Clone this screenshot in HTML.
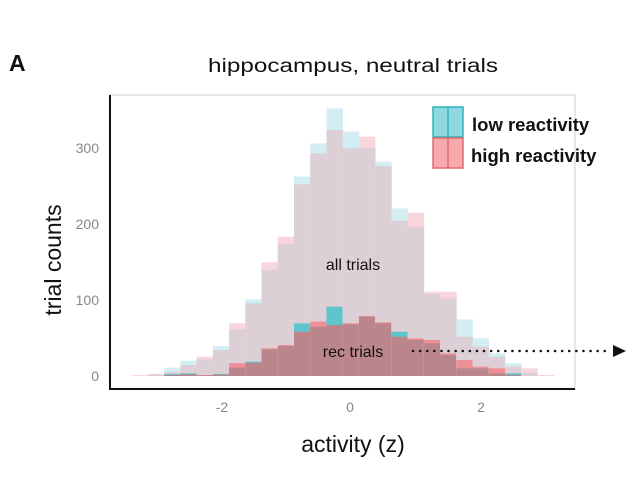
<!DOCTYPE html>
<html><head><meta charset="utf-8"><style>
html,body{margin:0;padding:0;background:#fff;}
svg{display:block;font-family:"Liberation Sans",Arial,sans-serif;}
</style></head><body>
<svg id="s" width="640" height="480" viewBox="0 0 640 480" xmlns="http://www.w3.org/2000/svg">
<rect width="640" height="480" fill="#fff"/>
<g id="bars"></g>
<rect x="110" y="95" width="465" height="294" fill="none" stroke="#cfcfcf" stroke-width="1"/>
<line x1="110" y1="95" x2="110" y2="389" stroke="#111" stroke-width="2"/>
<line x1="109" y1="389" x2="575" y2="389" stroke="#111" stroke-width="2"/>
<text x="9" y="71" font-size="23" font-weight="bold" fill="#111">A</text>
<text x="208" y="72" font-size="19" fill="#111" textLength="290" lengthAdjust="spacingAndGlyphs">hippocampus, neutral trials</text>
<g font-size="14" fill="#888" text-anchor="end">
<text x="99" y="153">300</text><text x="99" y="229">200</text><text x="99" y="305">100</text><text x="99" y="381">0</text>
</g>
<g font-size="14" fill="#888" text-anchor="middle">
<text x="222" y="412">-2</text><text x="350" y="412">0</text><text x="481" y="412">2</text>
</g>
<text transform="translate(61,260) rotate(-90)" font-size="23" fill="#111" text-anchor="middle">trial counts</text>
<text x="353" y="452" font-size="23" fill="#111" text-anchor="middle">activity (z)</text>
<text x="353" y="270" font-size="16" fill="#111" text-anchor="middle">all trials</text>
<text x="353" y="357" font-size="16" fill="#111" text-anchor="middle">rec trials</text>
<line x1="413" y1="351" x2="610" y2="351" stroke="#111" stroke-width="2.5" stroke-dasharray="0.1 7" stroke-linecap="round"/>
<polygon points="613,345 626,351 613,357" fill="#111"/>
<rect x="433" y="107" width="30" height="30" fill="#8fd8de" stroke="#2fb3bd" stroke-width="1.5"/>
<line x1="448" y1="107" x2="448" y2="137" stroke="#2fb3bd" stroke-width="1.5"/>
<rect x="433" y="138" width="30" height="30" fill="#f8a9ad" stroke="#e26b72" stroke-width="1.5"/>
<line x1="448" y1="138" x2="448" y2="168" stroke="#e26b72" stroke-width="1.5"/>
<text x="472" y="131" font-size="18.5" font-weight="bold" fill="#111">low reactivity</text>
<text x="471" y="162" font-size="18.5" font-weight="bold" fill="#111">high reactivity</text>
</svg>
<script>
var g=document.getElementById('bars');
var base=376;
function z(v){return v/3+90;}
var all=[[855,'p',858],[852,'p',853],[833,'c',845],[812,'c',825],[800,'p',808],[768,'c',780],[700,'p',718],[628,'c',640],[517,'p',540],[440,'p',462],[260,'c',283],[160,'c',190],[55,'c',120],[125,'c',175],[140,'p',175],[215,'c',228],[355,'c',392],[368,'p',410],[605,'p',612],[605,'p',625],[688,'c',740],[745,'c',770],[790,'c',800],[820,'c',830],[835,'p',848],[855,'p',858]];
var rec=[null,null,[852,'c',855],[850,'c',853],[855,'p',856],[852,'c',854],[820,'p',833],[815,'c',818],[775,'p',778],[765,'p',768],[700,'c',725],[695,'p',710],[650,'c',705],[700,'p',703],[678,'p',680],[697,'p',700],[725,'c',740],[745,'p',750],[750,'p',760],[790,'p',795],[810,'p',835],[830,'p',835],[835,'p',850],[850,'c',855],null,null];
function rect(x,y,w,h,f){var r=document.createElementNS('http://www.w3.org/2000/svg','rect');r.setAttribute('x',x);r.setAttribute('y',y);r.setAttribute('width',w);r.setAttribute('height',h);r.setAttribute('fill',f);g.appendChild(r);}
var x0=131.7,bw=16.23;
for(var i=0;i<26;i++){
 var x=x0+bw*i,a=all[i];
 var t=z(a[0]),gt=z(a[2]);
 rect(x,t,bw+0.3,base-t,a[1]=='c'?'#d2eef2':'#f8d6dc');
 rect(x,gt,bw+0.3,base-gt,'#dcd0d6');
 var r=rec[i];
 if(r){var rt=z(r[0]),rg=z(r[2]);
  rect(x,rt,bw+0.3,base-rt,r[1]=='c'?'#5ec5cd':'#ee8f95');
  rect(x,rg,bw+0.3,base-rg,'#ba858b');}
}
</script>
</body></html>
